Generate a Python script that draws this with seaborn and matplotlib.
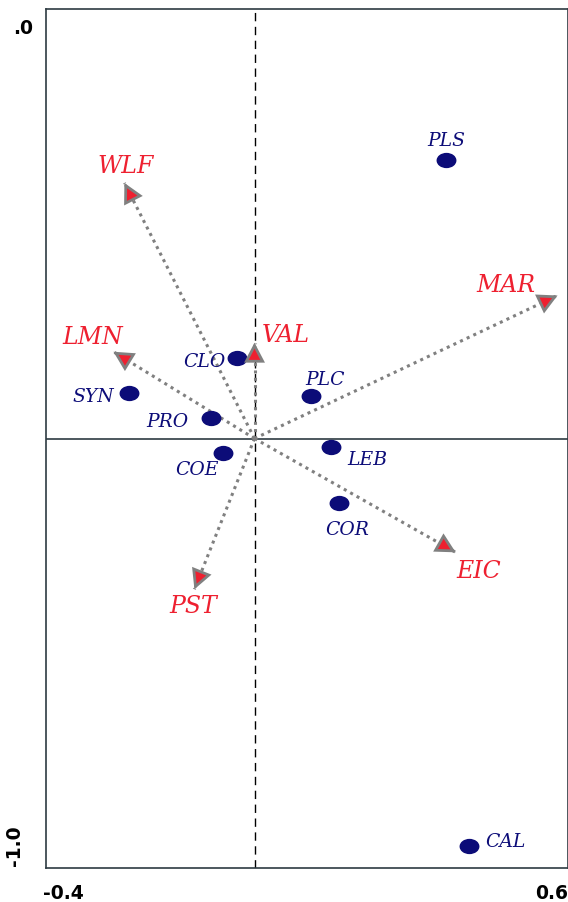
import numpy as np
import pandas as pd
import matplotlib
matplotlib.use("Agg")
import matplotlib.pyplot as plt
from matplotlib.path import Path
import matplotlib.transforms as mtransforms
import seaborn as sns

# Species scores (ordination axes 1 and 2)
species = ["PLS", "CLO", "SYN", "PRO", "PLC", "LEB", "COE", "COR", "CAL"]
sp_ax1 = [0.366, -0.033, -0.241, -0.084, 0.109, 0.146, -0.061, 0.161, 0.410]
sp_ax2 = [0.649, 0.188, 0.107, 0.047, 0.098, -0.019, -0.033, -0.151, -0.949]

# Environmental variable vectors
env_vars = ["WLF", "MAR", "LMN", "VAL", "PST", "EIC"]
env_ax1 = [-0.249, 0.580, -0.270, 0.000, -0.115, 0.385]
env_ax2 = [0.595, 0.333, 0.202, 0.223, -0.351, -0.265]

# Axis tick positions
xticks = [-0.4, -0.2, 0.0, 0.2, 0.4, 0.6]
yticks = [-1.0, -0.5, 0.0, 0.5, 1.0]

# Label offsets (pixels) from each point / arrow tip
sp_offsets = {"PLS": (1, 19), "CLO": (-33, -4), "SYN": (-35, -4), "PRO": (-43, -4),
              "PLC": (14, 16), "LEB": (36, -13), "COE": (-26, -17), "COR": (9, -27),
              "CAL": (37, 4)}
env_offsets = {"WLF": (1, 16), "MAR": (-52, 10), "LMN": (-21, 14), "VAL": (31, 7),
               "PST": (-1, -17), "EIC": (23, -19)}

RED = "#ee2030"
NAVY = "#0c0c78"
GREY = "#808080"
FRAME = "#2e3b42"

sns.set_style("white")
plt.rcParams["font.family"] = ["DejaVu Sans"]

fig = plt.figure(figsize=(5.68, 9.02), dpi=100)
ax = fig.add_axes([45.5 / 568, 1 - 868 / 902, 522.5 / 568, 859 / 902])
ax.set_xlim(-0.4, 0.6)
ax.set_ylim(-1.0, 1.0)

# Reference lines through the origin
ax.axhline(0, color=FRAME, lw=1.2, zorder=1)
ax.axvline(0, color="black", lw=1.0, ls=(0, (6, 4)), zorder=1)

# Environmental arrows: dotted shaft + red head with grey edge
px_per_x = 522.5
px_per_y = 429.5
head_px = 16.0
for name, x, y in zip(env_vars, env_ax1, env_ax2):
    dx, dy = x * px_per_x, y * px_per_y
    L = np.hypot(dx, dy)
    ux, uy = dx / L, dy / L
    ax.plot([0, x], [0, y], color=GREY, lw=2.2, ls=(0, (1, 1.4)),
            solid_capstyle="butt", zorder=2)
    ax.annotate("", xy=(x, y), xytext=(-ux * head_px, -uy * head_px),
                textcoords="offset pixels",
                arrowprops=dict(arrowstyle="-|>,head_length=0.8,head_width=0.42",
                                mutation_scale=14, fc=RED, ec=GREY, lw=2.0,
                                shrinkA=0, shrinkB=0, joinstyle="miter"),
                zorder=4)
    ox, oy = env_offsets[name]
    ax.annotate(name, xy=(x, y), xytext=(ox, oy), textcoords="offset pixels",
                ha="center", va="center", color=RED, fontsize=17,
                fontstyle="italic", family="DejaVu Serif", zorder=5)

# Species points as slightly flattened ellipses
circ = Path.unit_circle()
ellipse = Path(circ.vertices * np.array([1.3, 1.0]), circ.codes)
df = pd.DataFrame({"ax1": sp_ax1, "ax2": sp_ax2, "species": species})
sns.scatterplot(data=df, x="ax1", y="ax2", marker=ellipse, s=205,
                color=NAVY, edgecolor=NAVY, linewidth=0, ax=ax, zorder=3)
for name, x, y in zip(species, sp_ax1, sp_ax2):
    ox, oy = sp_offsets[name]
    ax.annotate(name, xy=(x, y), xytext=(ox, oy), textcoords="offset pixels",
                ha="center", va="center", color=NAVY, fontsize=13.5,
                fontstyle="italic", family="DejaVu Serif", zorder=5)

# Frame and ticks
for sp in ax.spines.values():
    sp.set_visible(True)
    sp.set_color(FRAME)
    sp.set_linewidth(1.2)
ax.set_xticks(xticks)
ax.set_yticks(yticks)
ax.set_xticklabels([])
ax.set_yticklabels([])
ax.tick_params(axis="both", direction="inout", length=7, width=1.2, color=FRAME)
ax.set_xlabel("")
ax.set_ylabel("")

# End labels of the axes
tick_font = dict(fontsize=13.5, fontweight="bold", color="black", family="DejaVu Sans")
xtrans = mtransforms.blended_transform_factory(ax.transData, ax.transAxes)
ax.annotate("-0.4", xy=(xticks[0], 0), xycoords=xtrans, xytext=(-2, -16),
            textcoords="offset pixels", ha="left", va="top", **tick_font)
ax.annotate("0.6", xy=(xticks[-1], 0), xycoords=xtrans, xytext=(0, -16),
            textcoords="offset pixels", ha="right", va="top", **tick_font)
ytrans = mtransforms.blended_transform_factory(ax.transAxes, ax.transData)
ax.annotate("-1.0", xy=(0, yticks[0]), xycoords=ytrans, xytext=(-31, 2),
            textcoords="offset pixels", ha="center", va="bottom", rotation=90,
            **tick_font)
ax.annotate(".0", xy=(0, yticks[-1]), xycoords=ytrans, xytext=(-12, -19),
            textcoords="offset pixels", ha="right", va="center", **tick_font)

fig.savefig("out.png", dpi=100)
